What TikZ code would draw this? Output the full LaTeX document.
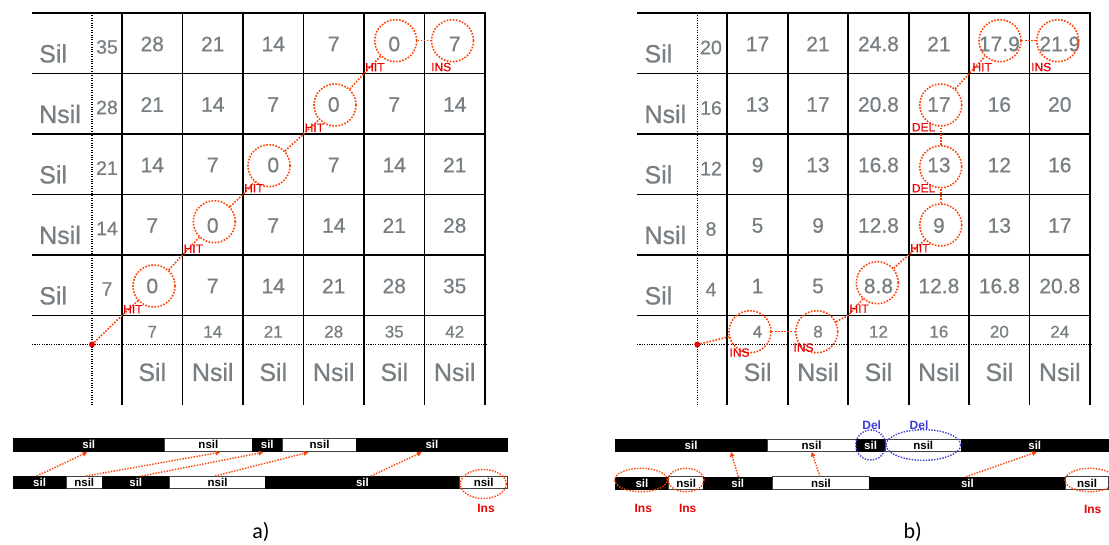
\documentclass[tikz,border=0pt]{standalone}
\usepackage{fontspec}
\setmainfont{Liberation Sans}
\newfontfamily\capfont{Carlito}
\newfontfamily\heavysans[FakeBold=0.6]{Liberation Sans}
\usetikzlibrary{shapes.geometric,arrows.meta}
\definecolor{numgray}{RGB}{120,127,131}
\definecolor{dotred}{RGB}{255,64,0}
\definecolor{labred}{RGB}{235,0,0}
\definecolor{delblue}{RGB}{60,60,215}
\tikzset{
  gridline/.style={line width=1.8pt, black},
  gdot/.style={line width=1.1pt, black, dash pattern=on 1.1pt off 1.3pt},
  num/.style={text=numgray, font=\heavysans\fontsize{21}{21}\selectfont, inner sep=0pt},
  rnum/.style={text=numgray, font=\heavysans\fontsize{19.5}{19.5}\selectfont, inner sep=0pt},
  bnum/.style={text=numgray, font=\heavysans\fontsize{17}{17}\selectfont, inner sep=0pt},
  rowlab/.style={text=numgray, font=\heavysans\fontsize{25}{25}\selectfont, inner sep=0pt, anchor=west},
  collab/.style={text=numgray, font=\heavysans\fontsize{25}{25}\selectfont, inner sep=0pt},
  opnote/.style={text=labred, font=\heavysans\fontsize{12}{12}\selectfont, inner sep=0pt, anchor=south west},
  pathline/.style={dotred, line width=1.6pt, dash pattern=on 1.6pt off 1.5pt},
  mcirc/.style={circle, draw=dotred, line width=1.6pt, dash pattern=on 1.6pt off 1.5pt, minimum size=42pt, inner sep=0pt},
  reddot/.style={circle, fill=labred, minimum size=6pt, inner sep=0pt},
  segb/.style={rectangle, fill=black, draw=black, line width=0.5pt, text=white, font=\bfseries\fontsize{11.5}{11.5}\selectfont, minimum height=12.5pt, inner sep=0pt, anchor=west},
  segw/.style={rectangle, fill=white, draw=black!75, line width=0.8pt, text=black, font=\bfseries\fontsize{11.5}{11.5}\selectfont, minimum height=12.5pt, inner sep=0pt, anchor=west},
  arr/.style={dotred, line width=1.4pt, dash pattern=on 1.4pt off 1.4pt, -{Triangle[length=4.5pt,width=4.5pt]}},
  insell/.style={ellipse, draw=dotred, line width=1.4pt, dash pattern=on 1.4pt off 1.4pt, inner sep=0pt},
  delell/.style={ellipse, draw=delblue, line width=1.4pt, dash pattern=on 1.4pt off 1.4pt, inner sep=0pt},
  inslab/.style={text=labred, font=\bfseries\fontsize{12}{12}\selectfont, inner sep=0pt},
  dellab/.style={text=delblue, font=\bfseries\fontsize{12}{12}\selectfont, inner sep=0pt},
  caplab/.style={font=\capfont\fontsize{22}{22}\selectfont, inner sep=0pt}
}
\begin{document}
\begin{tikzpicture}[x=1pt,y=-1pt]
\useasboundingbox (0,0) rectangle (1109,545);
\fill[white] (0,0) rectangle (1109,545);

% ================= LEFT GRID =================
\foreach \x in {122,182.5,243,303.5,364,424.5,485} \draw[gridline] (\x,13) -- (\x,405);
\foreach \y in {13,73.5,134,194.5,255,315.5} \draw[gridline] (32,\y) -- (486,\y);
\draw[gdot] (92,13) -- (92,405);
\draw[gdot] (32,344.5) -- (486,344.5);

\foreach \vals [count=\i from 0] in {{35,28,21,14,7,0,7},{28,21,14,7,0,7,14},{21,14,7,0,7,14,21},{14,7,0,7,14,21,28},{7,0,7,14,21,28,35}} {
  \foreach \v [count=\j from 0] in \vals {
    \ifnum\j=0
      \node[rnum] (L-\i-\j) at (107,{13+60.5*\i+34}) {\v};
    \else
      \node[num] (L-\i-\j) at ({122+60.5*\j-30.25},{13+60.5*\i+31}) {\v};
    \fi
  }
}
\foreach \lab [count=\i from 0] in {Sil,Nsil,Sil,Nsil,Sil}
  \node[rowlab] (LR-\i) at (39,{13+60.5*\i+40.5}) {\lab};
\foreach \n/\lab [count=\j] in {7/Sil,14/Nsil,21/Sil,28/Nsil,35/Sil,42/Nsil} {
  \node[bnum] (LB-\j) at ({122+60.5*\j-30.25},331.7) {\n};
  \node[collab] (LC-\j) at ({122+60.5*\j-30.25},372) {\lab};
}

% left alignment path
\node[reddot] (Ldot) at (92,344.5) {};
\node[mcirc] (Lc1) at (154,286) {};
\node[mcirc] (Lc2) at (214.3,221.7) {};
\node[mcirc] (Lc3) at (269,165.7) {};
\node[mcirc] (Lc4) at (335,105) {};
\node[mcirc] (Lc5) at (395.7,40.7) {};
\node[mcirc] (Lc6) at (452.5,40.7) {};
\coordinate (Lk1) at (122,315.5);
\coordinate (Lk2) at (182.5,255);
\coordinate (Lk3) at (243,194.5);
\coordinate (Lk4) at (303.5,134);
\coordinate (Lk5) at (364,73.5);
\draw[pathline] (Ldot) -- (Lk1) -- (Lc1);
\draw[pathline] (Lc1) -- (Lk2) -- (Lc2);
\draw[pathline] (Lc2) -- (Lk3) -- (Lc3);
\draw[pathline] (Lc3) -- (Lk4) -- (Lc4);
\draw[pathline] (Lc4) -- (Lk5) -- (Lc5);
\draw[pathline] (Lc5) -- (Lc6);
\node[opnote] (Lh1) at (123,313.5) {HIT};
\node[opnote] (Lh2) at (183.5,253) {HIT};
\node[opnote] (Lh3) at (244,192.5) {HIT};
\node[opnote] (Lh4) at (304.5,132) {HIT};
\node[opnote] (Lh5) at (365,71.5) {HIT};
\node[opnote] (Li1) at (431,71.5) {INS};

% ================= RIGHT GRID =================
\foreach \x in {727.3,787.75,848.2,908.65,969.1,1029.55,1090} \draw[gridline] (\x,13) -- (\x,405);
\foreach \y in {13,73.5,134,194.5,255,315.5} \draw[gridline] (637,\y) -- (1091,\y);
\draw[gdot] (697.3,13) -- (697.3,405);
\draw[gdot] (637,344.5) -- (1091,344.5);

\foreach \vals [count=\i from 0] in {{20,17,21,24.8,21,17.9,21.9},{16,13,17,20.8,17,16,20},{12,9,13,16.8,13,12,16},{8,5,9,12.8,9,13,17},{4,1,5,8.8,12.8,16.8,20.8}} {
  \foreach \v [count=\j from 0] in \vals {
    \ifnum\j=0
      \node[rnum] (R-\i-\j) at (711,{13+60.5*\i+34.5}) {\v};
    \else
      \node[num] (R-\i-\j) at ({727.3+60.45*\j-30.2},{13+60.5*\i+31}) {\v};
    \fi
  }
}
\foreach \lab [count=\i from 0] in {Sil,Nsil,Sil,Nsil,Sil}
  \node[rowlab] (RR-\i) at (644.3,{13+60.5*\i+40.5}) {\lab};
\foreach \n/\lab [count=\j] in {4/Sil,8/Nsil,12/Sil,16/Nsil,20/Sil,24/Nsil} {
  \node[bnum] (RB-\j) at ({727.3+60.45*\j-30.2},331.7) {\n};
  \node[collab] (RC-\j) at ({727.3+60.45*\j-30.2},372) {\lab};
}

% right alignment path
\node[reddot] (Rdot) at (697.3,344.5) {};
\node[mcirc] (Rc1) at (750,331.7) {};
\node[mcirc] (Rc2) at (816.7,331.7) {};
\node[mcirc] (Rc3) at (877.3,282.7) {};
\node[mcirc] (Rc4) at (940.7,225) {};
\node[mcirc] (Rc5) at (940.7,166.7) {};
\node[mcirc] (Rc6) at (940.7,105) {};
\node[mcirc] (Rc7) at (1000,40.7) {};
\node[mcirc] (Rc8) at (1057.7,40.7) {};
\coordinate (Rk1) at (848.2,315.5);
\coordinate (Rk2) at (908.65,255);
\coordinate (Rk3) at (969.1,73.5);
\draw[pathline] (Rdot) -- (Rc1);
\draw[pathline] (Rc1) -- (Rc2);
\draw[pathline] (Rc2) -- (Rk1) -- (Rc3);
\draw[pathline] (Rc3) -- (Rk2) -- (Rc4);
\draw[pathline] (Rc4) -- (Rc5);
\draw[pathline] (Rc5) -- (Rc6);
\draw[pathline] (Rc6) -- (Rk3) -- (Rc7);
\draw[pathline] (Rc7) -- (Rc8);
\node[opnote] (Ri1) at (729.3,357) {INS};
\node[opnote] (Ri2) at (793.3,352) {INS};
\node[opnote] (Rh1) at (849.3,313) {HIT};
\node[opnote] (Rh2) at (910,252.5) {HIT};
\node[opnote] (Rd1) at (911.7,192.5) {DEL};
\node[opnote] (Rd2) at (911.7,131.5) {DEL};
\node[opnote] (Rh3) at (972.3,71.5) {HIT};
\node[opnote] (Ri3) at (1031,71.5) {INS};

% ================= LEFT BARS =================
\node[segb, minimum width=151.6pt] (ta1) at (12.7,444.7) {sil};
\node[segw, minimum width=87.4pt]  (ta2) at (164.3,444.7) {nsil};
\node[segb, minimum width=30.6pt]  (ta3) at (251.7,444.7) {sil};
\node[segw, minimum width=73.7pt]  (ta4) at (282.3,444.7) {nsil};
\node[segb, minimum width=151.3pt] (ta5) at (356,444.7) {sil};

\node[segb, minimum width=53.3pt]  (ba1) at (12.7,482.2) {sil};
\node[segw, minimum width=35.7pt]  (ba2) at (66,482.2) {nsil};
\node[segb, minimum width=67.6pt]  (ba3) at (101.7,482.2) {sil};
\node[segw, minimum width=95.7pt]  (ba4) at (169.3,482.2) {nsil};
\node[segb, minimum width=194.3pt] (ba5) at (265,482.2) {sil};
\node[segw, minimum width=48pt]    (ba6) at (459.3,482.2) {nsil};

\coordinate (a1s) at (36.7,476);  \coordinate (a1e) at (87.3,452.3);
\coordinate (a2s) at (86,476);    \coordinate (a2e) at (220,452.3);
\coordinate (a3s) at (141.7,476); \coordinate (a3e) at (263.3,452.3);
\coordinate (a4s) at (215,476);   \coordinate (a4e) at (308.3,452.3);
\coordinate (a5s) at (371,476);   \coordinate (a5e) at (421.7,452.3);
\draw[arr] (a1s) -- (a1e);
\draw[arr] (a2s) -- (a2e);
\draw[arr] (a3s) -- (a3e);
\draw[arr] (a4s) -- (a4e);
\draw[arr] (a5s) -- (a5e);

\node[insell, minimum width=46pt, minimum height=29pt] (Lins) at (483.3,484) {};
\node[inslab] (LinsT) at (486,508.3) {Ins};
\node[caplab] (capa) at (261,531.7) {a)};

% ================= RIGHT BARS =================
\node[segb, minimum width=151.7pt] (tb1) at (615,445.3) {sil};
\node[segw, minimum width=89pt]    (tb2) at (766.7,445.3) {nsil};
\node[segb, minimum width=29.3pt]  (tb3) at (855.7,445.3) {sil};
\node[segw, minimum width=75.7pt]  (tb4) at (885,445.3) {nsil};
\node[segb, minimum width=147.6pt] (tb5) at (960.7,445.3) {sil};

\node[segb, minimum width=53.3pt]  (bb1) at (615,483) {sil};
\node[segw, minimum width=35pt]    (bb2) at (668.3,483) {nsil};
\node[segb, minimum width=68.4pt]  (bb3) at (703.3,483) {sil};
\node[segw, minimum width=97.6pt]  (bb4) at (771.7,483) {nsil};
\node[segb, minimum width=195.7pt] (bb5) at (869.3,483) {sil};
\node[segw, minimum width=43.3pt]  (bb6) at (1065,483) {nsil};

\coordinate (b1s) at (738.3,476.7); \coordinate (b1e) at (731,452);
\coordinate (b2s) at (820,476.7);   \coordinate (b2e) at (811.7,452);
\coordinate (b3s) at (966,476.7);   \coordinate (b3e) at (1036.7,452);
\draw[arr] (b1s) -- (b1e);
\draw[arr] (b2s) -- (b2e);
\draw[arr] (b3s) -- (b3e);

\node[delell, minimum width=30pt, minimum height=30pt] (Rdel1) at (870.7,445) {};
\node[delell, minimum width=74.6pt, minimum height=30.6pt] (Rdel2) at (923.3,445) {};
\node[dellab] (Rdel1T) at (871.7,425.7) {Del};
\node[dellab] (Rdel2T) at (919,425.7) {Del};

\node[insell, minimum width=52.6pt, minimum height=23.4pt] (Rins1) at (641,480) {};
\node[insell, minimum width=36pt, minimum height=23.4pt] (Rins2) at (686,480) {};
\node[insell, minimum width=50pt, minimum height=23.4pt] (Rins3) at (1090,480) {};
\node[inslab] (Rins1T) at (643.3,508.3) {Ins};
\node[inslab] (Rins2T) at (687.7,508.3) {Ins};
\node[inslab] (Rins3T) at (1092.7,509) {Ins};
\node[caplab] (capb) at (912.7,531.7) {b)};
\end{tikzpicture}
\end{document}
